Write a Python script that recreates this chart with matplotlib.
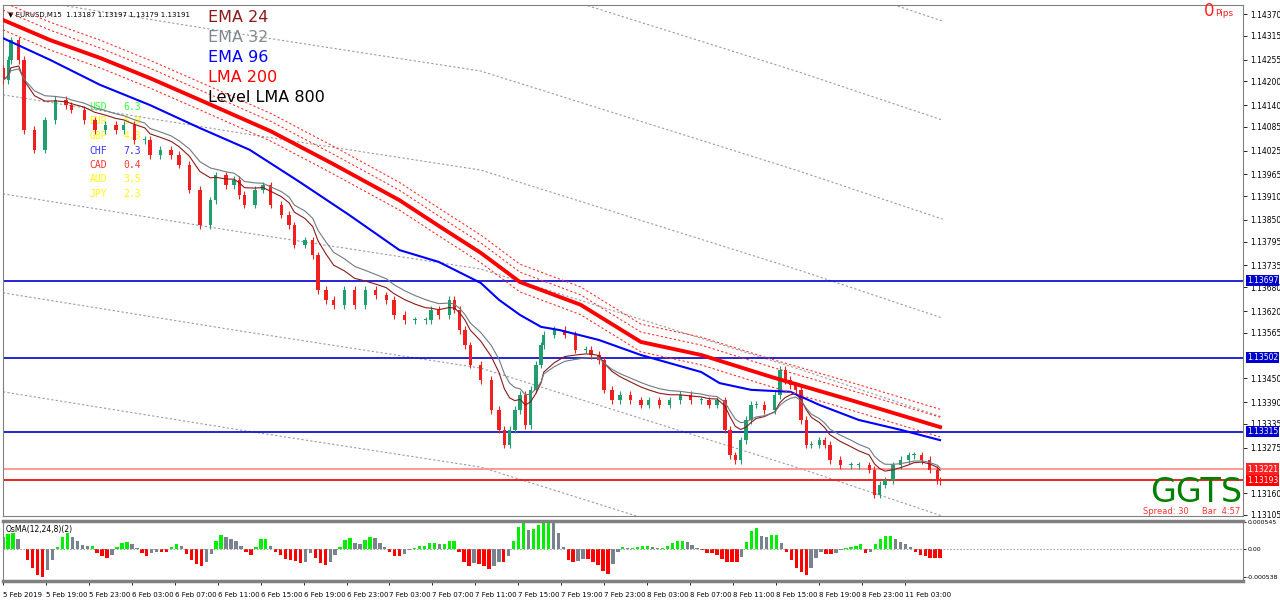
import numpy as np
import pandas as pd
import matplotlib
matplotlib.use("Agg")
import matplotlib.pyplot as plt

# ---------------------------------------------------------------------------
# data (time = 15-min bar index from 5 Feb 15:00)
# ---------------------------------------------------------------------------
bar_t = [0, 2, 3, 6, 8, 12, 16, 20, 24, 26, 31, 35, 39, 43, 46, 50, 54, 56, 60, 64,
         67, 71, 75, 79, 81, 85, 88, 90, 92, 96, 99, 102, 106, 109, 111, 115, 118, 120,
         123, 126, 130, 134, 138, 142, 146, 149, 153, 157, 161, 163, 166, 170, 172, 174,
         176, 178, 182, 186, 189, 191, 193, 195, 197, 199, 201, 203, 205, 206, 210, 214,
         218, 222, 224, 227, 229, 232, 235, 239, 243, 246, 250, 254, 258, 262, 266, 269,
         272, 275, 277, 279, 281, 283, 285, 287, 290, 294, 296, 298, 300, 302, 304, 306,
         308, 311, 313, 315, 319, 323, 326, 330, 332, 334, 336, 339, 342, 345, 347, 350,
         353, 356, 357]
closes = [1.14203, 1.14254, 1.14304, 1.14254, 1.14077, 1.14027, 1.14102, 1.14153, 1.14140,
          1.14128, 1.14102, 1.14077, 1.14090, 1.14077, 1.14090, 1.14052, 1.14052, 1.14014,
          1.14027, 1.14014, 1.13989, 1.13926, 1.13837, 1.13900, 1.13963, 1.13938, 1.13951,
          1.13913, 1.13888, 1.13926, 1.13938, 1.13888, 1.13863, 1.13837, 1.13787, 1.13799,
          1.13761, 1.13673, 1.13648, 1.13635, 1.13673, 1.13635, 1.13673, 1.13660, 1.13648,
          1.13610, 1.13597, 1.13597, 1.13597, 1.13623, 1.13610, 1.13648, 1.13623, 1.13572,
          1.13534, 1.13484, 1.13446, 1.13370, 1.13320, 1.13282, 1.13320, 1.13370, 1.13408,
          1.13332, 1.13421, 1.13484, 1.13534, 1.13560, 1.13572, 1.13560, 1.13522, 1.13522,
          1.13509, 1.13496, 1.13421, 1.13395, 1.13408, 1.13395, 1.13383, 1.13395, 1.13383,
          1.13395, 1.13408, 1.13395, 1.13395, 1.13383, 1.13395, 1.13320, 1.13256, 1.13244,
          1.13294, 1.13345, 1.13383, 1.13383, 1.13370, 1.13408, 1.13471, 1.13446, 1.13433,
          1.13421, 1.13345, 1.13282, 1.13282, 1.13294, 1.13282, 1.13244, 1.13231, 1.13231,
          1.13231, 1.13219, 1.13156, 1.13181, 1.13193, 1.13231, 1.13244, 1.13256, 1.13256,
          1.13244, 1.13219, 1.13193, 1.13191]

lma200_t = [0, 18, 37, 56, 75, 102, 125, 151, 166, 182, 197, 220, 243, 266, 293, 323, 357]
lma200 = [1.14355, 1.14304, 1.14259, 1.14208, 1.14153, 1.14074, 1.13994, 1.13900, 1.13835,
          1.13767, 1.13693, 1.13636, 1.13542, 1.13509, 1.13453, 1.13395, 1.13327]

ema96_t = [0, 18, 37, 56, 75, 94, 113, 132, 151, 166, 182, 189, 197, 205, 212, 227, 243,
           266, 273, 285, 300, 311, 326, 342, 357]
ema96 = [1.14309, 1.14254, 1.14191, 1.14140, 1.14082, 1.14027, 1.13946, 1.13862, 1.13774,
         1.13744, 1.13691, 1.13648, 1.13610, 1.13580, 1.13572, 1.13547, 1.13509, 1.13466,
         1.13438, 1.13421, 1.13416, 1.13383, 1.13345, 1.13320, 1.13294]

lma800_t = [0, 90, 182, 303, 358]
lma800 = [1.14166, 1.14070, 1.13976, 1.13724, 1.13602]
lma800_levels = [-3, -2, -1, 0, 1, 2, 3, 4]
level_step = 0.0025

hlines_blue = [1.13697, 1.13502, 1.13315]
hline_pink = 1.13221
hline_red = 1.13193

# OsMA in units of 1e-5
osma = [24, 30, 32, 20, 0, -20, -36, -50, -54, -40, -20, 4, 24, 32, 24, 16, 8, 6, 6, -6,
        -12, -16, -10, 4, 12, 14, 10, 2, -6, -12, -6, -4, -4, -4, 4, 10, 6, -8, -20, -28,
        -32, -24, -8, 16, 28, 24, 20, 16, 6, -4, -10, 4, 20, 20, 6, -4, -10, -18, -20, -22,
        -26, -24, -6, -16, -26, -30, -24, -10, 4, 18, 22, 12, 10, 18, 24, 22, 12, 4, -4,
        -12, -12, -8, -2, 2, 6, 6, 12, 12, 10, 10, 16, 16, -4, -24, -32, -26, -28, -32,
        -38, -32, -24, -24, -12, 16, 44, 52, 38, 40, 48, 56, 60, 52, 32, 4, -20, -24, -22,
        -18, -18, -24, -30, -42, -48, -28, -4, 4, 2, 2, 4, 6, 6, 4, 2, 2, 6, 12, 16, 16,
        14, 8, 2, -2, -6, -6, -10, -18, -24, -24, -24, -14, 14, 36, 42, 26, 24, 28, 28, 12,
        -4, -20, -36, -44, -50, -36, -16, -4, -8, -8, -6, -2, 2, 4, 6, 10, -6, -4, 10, 20,
        26, 26, 20, 14, 10, 4, -4, -10, -12, -16, -16, -16]

time_labels = ["5 Feb 2019", "5 Feb 19:00", "5 Feb 23:00", "6 Feb 03:00", "6 Feb 07:00",
               "6 Feb 11:00", "6 Feb 15:00", "6 Feb 19:00", "6 Feb 23:00", "7 Feb 03:00",
               "7 Feb 07:00", "7 Feb 11:00", "7 Feb 15:00", "7 Feb 19:00", "7 Feb 23:00",
               "8 Feb 03:00", "8 Feb 07:00", "8 Feb 11:00", "8 Feb 15:00", "8 Feb 19:00",
               "8 Feb 23:00", "11 Feb 03:00"]
price_ticks = [1.14370, 1.14315, 1.14255, 1.14200, 1.14140, 1.14085, 1.14025, 1.13965,
               1.13910, 1.13850, 1.13795, 1.13735, 1.13680, 1.13620, 1.13565, 1.13450,
               1.13390, 1.13335, 1.13275, 1.13160, 1.13105]

currencies = ["USD", "EUR", "GBP", "CHF", "CAD", "AUD", "JPY"]
strength = ["6.3", "5.0", "4.3", "7.3", "0.4", "3.5", "2.3"]
cur_colors = ["#33ff33", "#ffff00", "#ffff00", "#3333ff", "#ff3333", "#ffff00", "#ffff00"]

legend_items = [("EMA 24", "#8b1a1a"), ("EMA 32", "#808890"), ("EMA 96", "#0000ff"),
                ("LMA 200", "#ff0000"), ("Level LMA 800", "#000000")]

# ---------------------------------------------------------------------------
W, H = 1280, 601
fig = plt.figure(figsize=(W / 100, H / 100), dpi=100)
fig.patch.set_facecolor("white")
ax = fig.add_axes([3 / W, 1 - 516 / H, 1240 / W, 511 / H])
ax2 = fig.add_axes([3 / W, 1 - 581 / H, 1240 / W, 60 / H])

XMAX = 472.4
px_per_price = 501 / 0.01265
ax.set_xlim(0, XMAX)
ax.set_ylim(1.14370 - 502 / px_per_price, 1.14370 + 9 / px_per_price)

t = np.array(bar_t[:len(closes)], dtype=float)
c = np.array(closes[:len(t)])
o = np.concatenate([[c[0] + 0.0003], c[:-1]])

# LMA 800 level lines
for k in lma800_levels:
    ax.plot(lma800_t, np.array(lma800) + k * level_step, color="#9a9aa8",
            lw=0.8, ls=(0, (2, 2)), zorder=1)

# currency strength table (sits under the candles)
for i, (cur, s, col) in enumerate(zip(currencies, strength, cur_colors)):
    y = 1.14370 - (107 - 14 + i * 14.5) / px_per_price
    ax.text(33, y, cur, color=col, fontsize=7, family="DejaVu Sans Mono", va="center", zorder=1)
    ax.text(46, y, s, color=col, fontsize=7, family="DejaVu Sans Mono", va="center", zorder=1)

# horizontal levels
for lv in hlines_blue:
    ax.axhline(lv, color="#0000cc", lw=1.2, zorder=2)
ax.axhline(hline_pink, color="#ff8888", lw=1.2, zorder=2)
ax.axhline(hline_red, color="#ee1111", lw=1.3, zorder=2)

# candles
wick = 0.00009
for ti, oi, ci in zip(t, o, c):
    col = "#1f9e6e" if ci >= oi else "#f02020"
    lo, hi = min(oi, ci), max(oi, ci)
    ax.vlines(ti, lo - wick, hi + wick, color=col, lw=0.8, zorder=3)
    ax.bar(ti, max(hi - lo, 0.00002), bottom=lo, width=1.3, color=col, lw=0, zorder=3)

# moving averages
s = pd.Series(c)
ax.plot(t, s.ewm(span=8, adjust=False).mean(), color="#8b1a1a", lw=0.8, zorder=4)
ax.plot(t, s.ewm(span=11, adjust=False).mean(), color="#707a80", lw=0.8, zorder=4)
ax.plot(ema96_t, ema96, color="#0000ff", lw=1.5, zorder=4)
lma = np.array(lma200)
for off in (-0.00025, 0.00025, 0.00045):
    ax.plot(lma200_t, lma + off, color="#ff3030", lw=0.8, ls=(0, (2, 2)), zorder=4)
ax.plot(lma200_t, lma, color="#ff0000", lw=2.8, zorder=5)

# axis styling
ax.set_xticks([])
ax.yaxis.tick_right()
ax.set_yticks(price_ticks)
ax.set_yticklabels([f"{p:.5f}" for p in price_ticks], fontsize=5.5)
ax.tick_params(axis="y", length=3, pad=2, width=0.6)
for sp in ax.spines.values():
    sp.set_color("#808080")
for lv, fc in [(hlines_blue[0], "#0000cc"), (hlines_blue[1], "#0000cc"),
               (hlines_blue[2], "#0000cc"), (hline_pink, "#ff2222"), (hline_red, "#ff0000")]:
    ax.text(1.003, lv, f"{lv:.5f}", transform=ax.get_yaxis_transform(), fontsize=5.5,
            color="white", va="center", ha="left",
            bbox=dict(boxstyle="square,pad=0.15", fc=fc, ec="none"))

# texts
ax.text(0.004, 0.987, "▼ EURUSD,M15  1.13187 1.13197 1.13179 1.13191", transform=ax.transAxes,
        fontsize=5, va="top")
for i, (lab, col) in enumerate(legend_items):
    fig.text(208 / W, 1 - (17 + i * 20) / H, lab, color=col, fontsize=11.5, va="center")
fig.text(1204 / W, 1 - 11 / H, "0", color="#ff2020", fontsize=12, va="center")
fig.text(1215 / W, 1 - 13 / H, "Pips", color="#ff2020", fontsize=6.5, va="center")
fig.text(1150 / W, 1 - 492 / H, "GGTS", color="#008000", fontsize=24, va="center")
fig.text(1143 / W, 1 - 511 / H, "Spread: 30     Bar  4:57", color="#ff3333", fontsize=6,
         va="center")

# OsMA
ax2.set_xlim(0, XMAX)
ax2.set_ylim(-62, 56)
ot = np.linspace(0, 357, len(osma))
ov = np.array(osma, dtype=float)
prev = np.concatenate([[0], ov[:-1]])
cols = ["#00ee00" if (v > 0 and v >= p) else "#ff0000" if (v < 0 and v <= p) else "#7a8290"
        for v, p in zip(ov, prev)]
ax2.bar(ot, ov, width=1.3, color=cols, lw=0)
ax2.axhline(0, color="#909090", lw=0.6, ls=(0, (2, 2)))
ax2.text(0.002, 0.93, "OsMA(12,24,8)(2)", transform=ax2.transAxes, fontsize=5.5, va="top")
ax2.yaxis.tick_right()
ax2.set_yticks([54.5, 0, -53.8])
ax2.set_yticklabels(["0.000545", "0.00", "-0.000538"], fontsize=4.5)
ax2.tick_params(axis="y", length=2, pad=1, width=0.6)
ax2.set_xticks(np.arange(len(time_labels)) * 16.36)
ax2.set_xticklabels(time_labels, fontsize=5, ha="left")
ax2.tick_params(axis="x", length=3, pad=5, width=0.6)
for sp in ax2.spines.values():
    sp.set_color("#808080")
ax2.spines["top"].set_linewidth(2.5)
ax2.spines["bottom"].set_linewidth(2.5)

fig.savefig("out.png", dpi=100)
